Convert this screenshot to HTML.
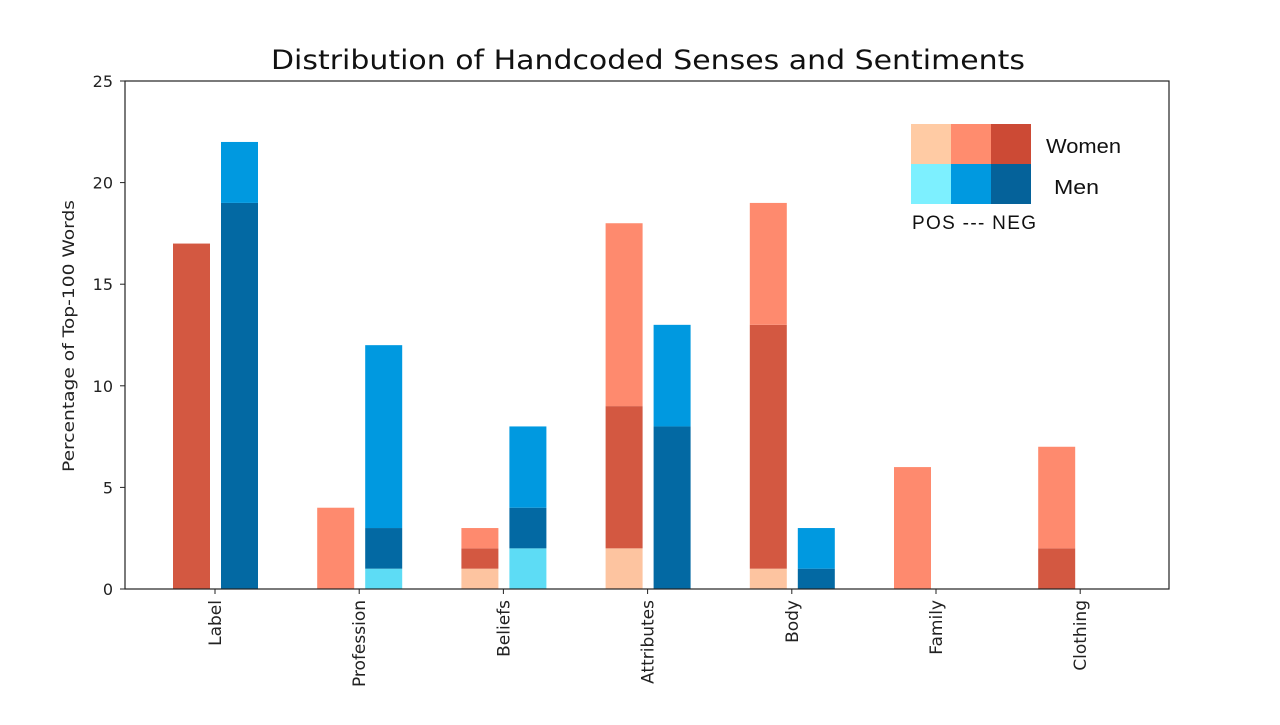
<!DOCTYPE html>
<html><head><meta charset="utf-8"><style>
body{margin:0;background:#fff;width:1280px;height:720px;overflow:hidden;font-family:"Liberation Sans","DejaVu Sans",sans-serif}
</style></head><body>
<svg id="chart" width="1280" height="720" xmlns="http://www.w3.org/2000/svg">
<text x="271" y="69" textLength="754" lengthAdjust="spacingAndGlyphs" font-family="DejaVu Sans, sans-serif" font-size="27" fill="#111">Distribution of Handcoded Senses and Sentiments</text>
<text transform="translate(74,472) rotate(-90)" textLength="272" lengthAdjust="spacingAndGlyphs" font-family="DejaVu Sans, sans-serif" font-size="16" fill="#222">Percentage of Top-100 Words</text>
<g id="marks"></g>
<rect x="125" y="81" width="1044" height="508" fill="none" stroke="#222" stroke-width="1.2"/>
<g>
<rect x="911" y="124" width="40" height="40" fill="#ffcba4"/>
<rect x="951" y="124" width="40" height="40" fill="#ff8c6e"/>
<rect x="991" y="124" width="40" height="40" fill="#cc4a35"/>
<rect x="911" y="164" width="40" height="40" fill="#7df0ff"/>
<rect x="951" y="164" width="40" height="40" fill="#0099e0"/>
<rect x="991" y="164" width="40" height="40" fill="#05629a"/>
<text x="1046" y="153" textLength="75" lengthAdjust="spacingAndGlyphs" font-size="20" fill="#111">Women</text>
<text x="1054" y="194" textLength="45" lengthAdjust="spacingAndGlyphs" font-size="20" fill="#111">Men</text>
<text x="912" y="229" textLength="124" lengthAdjust="spacing" font-size="19" fill="#111">POS --- NEG</text>
</g>
</svg>
<script>
const categories=["Label","Profession","Beliefs","Attributes","Body","Family","Clothing"];
const womenPos=[0,0,1,2,1,0,0];
const womenNeg=[17,0,1,7,12,0,2];
const womenNeu=[0,4,1,9,6,6,5];
const menPos=[0,1,2,0,0,0,0];
const menNeg=[19,2,2,8,1,0,0];
const menNeu=[3,9,4,5,2,0,0];
const yTicks=[0,5,10,15,20,25];
const svg=document.getElementById('chart');
const g=document.getElementById('marks');
const NS='http://www.w3.org/2000/svg';
const y0=589,yTop=81,yMax=25;
function y(v){return y0-(v/yMax)*(y0-yTop);}
function xc(i){return 215+i*144.2;}
function mk(t,a){const e=document.createElementNS(NS,t);for(const k in a)e.setAttribute(k,a[k]);return e;}
yTicks.forEach(t=>{
 const l=mk('line',{x1:120,x2:125,y1:y(t),y2:y(t),stroke:'#222'});
 
 
 svg.appendChild(l);
 const tx=mk('text',{x:113,y:y(t)+6,'text-anchor':'end','font-size':16,fill:'#222','font-family':'DejaVu Sans, sans-serif'});
 tx.textContent=t;
 
 
 svg.appendChild(tx);
});
function stack(i,x,vals,cols,who){
 let base=0;
 vals.forEach((v,j)=>{
  if(v>0){
   const r=mk('rect',{x:x,y:y(base+v),width:37,height:y(base)-y(base+v),fill:cols[j]});
   
   
   g.appendChild(r);
  }
  base+=v;
 });
}
categories.forEach((c,i)=>{
 const cx=xc(i);
 stack(i,cx-42,[womenPos[i],womenNeg[i],womenNeu[i]],['#fdc4a0','#d35841','#fe8a6e'],'women');
 stack(i,cx+6,[menPos[i],menNeg[i],menNeu[i]],['#5ddcf5','#0369a3','#0099e0'],'men');
 const l=mk('line',{x1:cx,x2:cx,y1:589,y2:594,stroke:'#222'});
 
 
 svg.appendChild(l);
 const t=mk('text',{transform:'translate('+(cx+6)+',600) rotate(-90)','text-anchor':'end','font-size':17,fill:'#222','font-family':'DejaVu Sans, sans-serif'});
 t.textContent=c;
 
 
 svg.appendChild(t);
});
</script>
</body></html>
